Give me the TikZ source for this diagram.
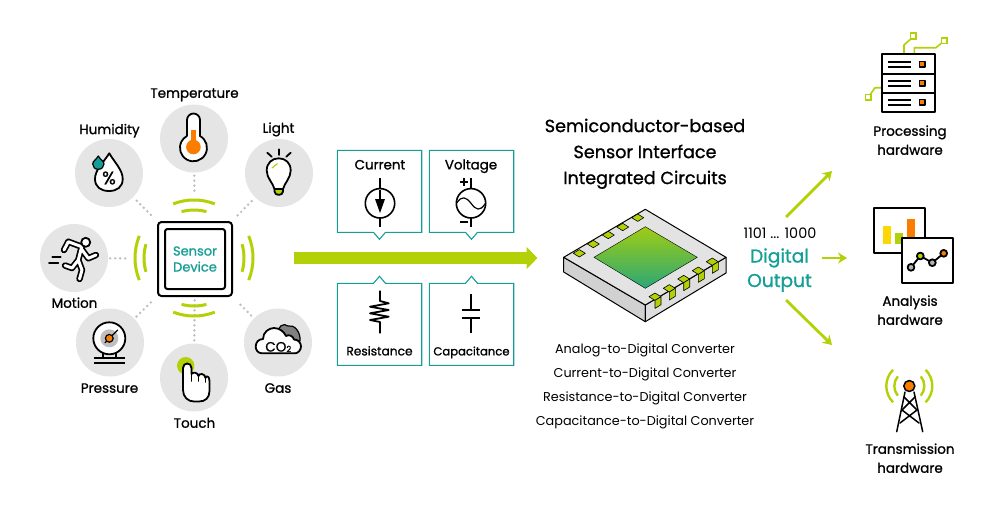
\documentclass[tikz,border=0pt]{standalone}
\usepackage{fontspec}
\setmainfont{Poppins}
\newfontfamily\labelfont[FakeBold=1.1]{Poppins}
\usetikzlibrary{arrows.meta}
\definecolor{lime}{HTML}{B4D006}
\definecolor{teal}{HTML}{159E96}
\definecolor{disc}{HTML}{E5E5E5}
\definecolor{dotgray}{HTML}{BEBEBE}
\definecolor{hot}{HTML}{FB7D00}
\definecolor{diea}{HTML}{A0CC12}
\definecolor{dieb}{HTML}{8CC526}
\definecolor{diec}{HTML}{2AA878}
\tikzset{
	sensorcircle/.style={circle, fill=disc, minimum size=68pt, inner sep=0pt},
	dotline/.style={dotgray, line width=2.7pt, line cap=round, dash pattern=on 0pt off 5pt},
	wave/.style={lime, line width=3pt},
	icon/.style={black, line width=1.8pt, line join=round, line cap=round},
	boxline/.style={teal, line width=1.1pt, fill=white},
	sidearrow/.style={lime, line width=2.8pt, -{Stealth[length=9pt,width=11pt]}},
	mainarrow/.style={lime, line width=12.3pt, -{Triangle[length=11pt,width=21.4pt]}},
	sensortext/.style={font=\labelfont\fontsize{13.5}{15}\selectfont, inner sep=0pt, text height=9.5pt, text depth=0pt},
	pad/.style={fill=lime, draw=black, line width=0.6pt, line join=round}
}
\begin{document}
\begin{tikzpicture}[x=1pt, y=1pt, yscale=-1]
	\useasboundingbox (0, 0) rectangle (1000, 507);

	\node[sensorcircle] at (194, 138.5) (temperature) {};
	\node[sensorcircle] at (109, 173) (humidity) {};
	\node[sensorcircle] at (279, 173) (light) {};
	\node[sensorcircle] at (74, 258) (motion) {};
	\node[sensorcircle] at (110, 342.5) (pressure) {};
	\node[sensorcircle] at (194, 377.5) (touch) {};
	\node[sensorcircle] at (278, 342.5) (gas) {};

	\node[draw, line width=2pt, rounded corners=3.5pt, fill=white, minimum width=74pt, minimum height=74pt, inner sep=0pt] at (195, 259) (device) {};
	\node[draw, line width=2pt, rounded corners=2.5pt, minimum width=60pt, minimum height=60pt, inner sep=0pt, align=center, text=teal, draw=black, font=\labelfont\fontsize{13}{16}\selectfont] at (195, 259) (sensor) {Sensor\\Device};

	\foreach \from/\s/\e in {temperature/3/27, humidity/5/7, light/5/7, motion/2/28, pressure/3/7, touch/3/3, gas/4/7}{
		\draw[dotline, shorten <=\s pt, shorten >=\e pt] (\from) -- (device);
	}
	\foreach \a/\r/\h in {270/58/21, 270/48/15, 90/58/21, 90/48/15, 180/59/22, 180/50/16, 0/59/22, 0/50/16}{
		\draw[wave] (194, 258) ++(\a-\h:\r) arc (\a-\h:\a+\h:\r);
	}

	\foreach \x/\y/\name/\txt in {194.5/93/templabel/Temperature, 109.5/129.4/humlabel/Humidity, 278.5/128/lightlabel/Light, 74.5/303/motionlabel/Motion, 109.5/388/preslabel/Pressure, 194.5/423/touchlabel/Touch, 278/388/gaslabel/Gas}{
		\node[sensortext] at (\x, \y) (\name) {\txt};
	}

	\draw[icon, fill=white] (187, 136) -- (187, 120) arc (180:360:6.5) -- (200, 136) arc (-61:241:13.5);
	\fill[hot] (191.3, 130) rectangle (195.5, 142);
	\fill[hot] (193.4, 147) circle (7.3);

	\draw[icon, fill=white] (109.3, 153.3) .. controls (103, 163) and (95, 170) .. (95, 179) .. controls (95, 187) and (101, 191) .. (109, 191) .. controls (117, 191) and (122.7, 187) .. (122.7, 179) .. controls (122.7, 170) and (115, 163) .. (109.3, 153.3) -- cycle;
	\draw[icon, fill=teal, line width=1.2pt] (98.3, 156) .. controls (96, 160) and (92.7, 161) .. (92.7, 164) .. controls (92.7, 167) and (95, 169.3) .. (98.3, 169.3) .. controls (101.5, 169.3) and (104, 167) .. (104, 164) .. controls (104, 161) and (100.5, 160) .. (98.3, 156) -- cycle;
	\node[font=\labelfont\fontsize{18}{18}\selectfont, inner sep=0pt] at (109, 178) (percent) {\%};

	\draw[icon] (267.3, 152.7) -- (271.7, 156.7);
	\draw[icon] (279, 149.3) -- (279, 155);
	\draw[icon] (290.7, 152.7) -- (286.3, 156.7);
	\draw[icon, fill=lime] (274.5, 189) -- (283, 189) -- (283, 191.5) .. controls (283, 196) and (274.5, 196) .. (274.5, 191.5) -- cycle;
	\draw[icon, fill=white] (274.5, 189) .. controls (273, 183) and (266.7, 178) .. (266.7, 170.5) .. controls (266.7, 163) and (272, 158.3) .. (278.7, 158.3) .. controls (285.5, 158.3) and (290.7, 163) .. (290.7, 170.5) .. controls (290.7, 178) and (284.5, 183) .. (283, 189) -- cycle;
	\draw[lime, line width=1.2pt] (272, 168) -- (277.5, 163.5);

	\draw[icon] (52.3, 256.7) -- (60.7, 256.7);
	\draw[icon] (49, 262.7) -- (58.3, 262.7);
	\draw[black, line width=6.4pt, line cap=round, line join=round] (64, 250) -- (68.3, 241.7) -- (81.7, 246.7) -- (78.3, 260) -- (82, 270) -- (79.5, 279) (78.3, 260) -- (72, 268) -- (65, 265.5) (81.5, 249) -- (88.3, 258.3) -- (96, 255);
	\draw[white, line width=3pt, line cap=round, line join=round] (64, 250) -- (68.3, 241.7) -- (81.7, 246.7) -- (78.3, 260) -- (82, 270) -- (79.5, 279) (78.3, 260) -- (72, 268) -- (65, 265.5) (81.5, 249) -- (88.3, 258.3) -- (96, 255);
	\draw[icon, fill=white] (85.7, 242.3) circle (4.5);

	\draw[icon] (102.7, 353) -- (102.7, 358) (116, 353) -- (116, 358);
	\draw[icon, line cap=butt] (94, 358) -- (125, 358) (94, 362.7) -- (125, 362.7);
	\draw[icon, fill=white] (109.3, 338.3) circle (16);
	\fill[black!25] (109.3, 338.3) circle (9);
	\draw[icon, line width=1.2pt] (105, 342.7) -- (117.7, 330);
	\draw[icon, fill=hot, line width=1.2pt] (109.3, 338.3) circle (3.9);

	\fill[lime] (185.7, 365.7) circle (8.7);
	\draw[icon, fill=white] (183, 385) -- (183, 368) .. controls (183, 362) and (191.5, 362) .. (191.5, 368) -- (191.5, 374) .. controls (192, 372) and (198, 372) .. (198.5, 376) .. controls (199, 373) and (205, 373) .. (205.5, 378) .. controls (206, 375) and (209.5, 376) .. (209.5, 381) -- (209.5, 391) .. controls (209.5, 398) and (205, 401.5) .. (199, 401.5) -- (194, 401.5) .. controls (188, 401.5) and (183, 397) .. (183, 390) -- cycle;
	\draw[icon] (191.5, 374) -- (191.5, 381) (198.5, 376) -- (198.5, 381) (205.5, 378) -- (205.5, 382);

	\draw[icon, fill=black!50, line width=1.2pt] (279, 334) .. controls (276, 327) and (284, 322) .. (288, 326) .. controls (294, 324) and (301, 332) .. (300, 341) -- (285, 341) -- cycle;
	\draw[icon, fill=white] (262, 353.3) .. controls (258, 353.3) and (255.7, 350) .. (255.7, 346.5) .. controls (255.7, 342) and (259, 339) .. (263, 339) .. controls (263, 332) and (269, 328) .. (274, 328) .. controls (280, 328) and (284, 332) .. (286, 336) .. controls (289, 334) and (293, 336) .. (294, 339.5) .. controls (298, 339.5) and (301, 342.5) .. (301, 346.5) .. controls (301, 350) and (298, 353.3) .. (295, 353.3) -- cycle;
	\node[font=\labelfont\fontsize{13.5}{15}\selectfont, inner sep=0pt] at (278.3, 347) (co) {CO\raisebox{-0.5pt}{\fontsize{8.5}{10}\selectfont 2}};

	\foreach \cx in {379.5, 471.5}{
		\draw[boxline] (\cx-42.2, 150.3) -- (\cx+42.2, 150.3) -- (\cx+42.2, 232.3) -- (\cx+6, 232.3) -- (\cx, 239.3) -- (\cx-6, 232.3) -- (\cx-42.2, 232.3) -- cycle;
		\draw[boxline] (\cx-42.2, 365.3) -- (\cx+42.2, 365.3) -- (\cx+42.2, 283.3) -- (\cx+6, 283.3) -- (\cx, 276.3) -- (\cx-6, 283.3) -- (\cx-42.2, 283.3) -- cycle;
	}
	\foreach \x/\y/\s/\name/\txt in {380/165/13.4/currentlabel/Current, 471/165/13.4/voltagelabel/Voltage, 379.5/351/12.2/resistlabel/Resistance, 471.5/351/11.6/caplabel/Capacitance}{
		\node[sensortext, font=\labelfont\fontsize{\s}{15}\selectfont, text height=8.8pt] at (\x, \y) (\name) {\txt};
	}

	\draw[icon, line cap=butt] (380, 178) -- (380, 226.7);
	\draw[icon, fill=white, line width=1.6pt] (380, 203.3) circle (14.7);
	\draw[icon, line cap=butt] (380, 190) -- (380, 205);
	\fill (375, 199) -- (385, 199) -- (380, 213) -- cycle;

	\draw[icon, line cap=butt] (471, 178) -- (471, 226.7);
	\draw[icon, fill=white, line width=1.6pt] (471, 203.3) circle (14.7);
	\draw[icon, line width=1.2pt] (456.5, 203.3) .. controls (462, 195) and (466, 197) .. (471, 203.3) .. controls (476, 210) and (480, 212) .. (485.5, 203.3);
	\draw[icon, line cap=butt] (460, 181.7) -- (468, 181.7) (464, 177.7) -- (464, 185.7) (460, 221.7) -- (468, 221.7);

	\draw[icon, line cap=butt] (380, 290.7) -- (380, 301) -- (388.7, 303.3) -- (370, 306.7) -- (388.7, 310) -- (370, 313.3) -- (388.7, 316.7) -- (370, 320) -- (380, 322) -- (380, 333.3);

	\draw[icon, line cap=butt] (471, 294) -- (471, 310) (462, 310) -- (480, 310) (462, 318) -- (480, 318) (471, 318) -- (471, 333.3);

	\coordinate (mainstart) at (294, 258);
	\coordinate (mainend) at (537.5, 258);
	\draw[mainarrow] (mainstart) -- (mainend);

	\foreach \y/\name/\txt in {126/titleone/Semiconductor-based, 152/titletwo/Sensor Interface, 178/titlethree/Integrated Circuits}{
		\node[font=\labelfont\fontsize{17.6}{18}\selectfont, inner sep=0pt, text height=12.2pt, text depth=0pt] at (645, \y) (\name) {\txt};
	}

	\fill[black!18, draw=black, line width=1pt, line join=round] (563.7, 257.3) -- (645.3, 305) -- (645.3, 321.7) -- (563.7, 272) -- cycle;
	\fill[black!13, draw=black, line width=1pt, line join=round] (726, 257.3) -- (645.3, 305) -- (645.3, 321.7) -- (726, 273) -- cycle;
	\fill[black!11, draw=black, line width=1pt, line join=round] (645.3, 209.3) -- (726, 257.3) -- (645.3, 305) -- (563.7, 257.3) -- cycle;
	\shade[top color=diea, middle color=dieb, bottom color=diec, draw=black, line width=0.4pt] (645.3, 226.7) -- (697.3, 257.3) -- (645.3, 288.3) -- (594, 257.3) -- cycle;

	\foreach \x/\y in {579.3/253.3, 593.3/244, 608.3/235, 622.7/227, 637.7/217.7}{
		\draw[pad] (\x-6, \y) -- (\x, \y-3.7) -- (\x+6, \y) -- (\x, \y+3.7) -- cycle;
	}
	\foreach \x/\y in {655/296.7, 669.3/288.3, 683.7/279, 698.3/270.7, 712.3/261.7}{
		\draw[pad] (\x-6, \y) -- (\x, \y-3.7) -- (\x+6, \y) -- (\x, \y+3.7) -- cycle;
		\draw[pad] (\x, \y+3.7) -- (\x+6, \y) -- (\x+6, \y+8) -- (\x, \y+11.7) -- cycle;
	}

	\foreach \y/\name/\txt in {349/adcl/Analog-to-Digital Converter, 373/cdcl/Current-to-Digital Converter, 397/rdcl/Resistance-to-Digital Converter, 421/capdcl/Capacitance-to-Digital Converter}{
		\node[font=\fontsize{12.8}{15}\selectfont, inner sep=0pt, text height=9pt, text depth=0pt] at (645, \y) (\name) {\txt};
	}

	\node[font=\fontsize{14.4}{15}\selectfont, inner sep=0pt, text height=9.5pt, text depth=0pt] at (780, 234) (bits) {1101 ... 1000};
	\node[font=\labelfont\fontsize{18.6}{24}\selectfont, text=teal, inner sep=0pt, text height=13pt, text depth=0pt] at (779.5, 256) (digital) {Digital};
	\node[font=\labelfont\fontsize{18.6}{24}\selectfont, text=teal, inner sep=0pt, text height=13pt, text depth=0pt] at (779.5, 280.5) (output) {Output};

	\coordinate (upstart) at (786, 217);
	\coordinate (upend) at (832, 171);
	\coordinate (rightstart) at (822, 258);
	\coordinate (rightend) at (847, 258);
	\coordinate (downstart) at (786, 300);
	\coordinate (downend) at (832, 345);
	\draw[sidearrow] (upstart) -- (upend);
	\draw[sidearrow] (rightstart) -- (rightend);
	\draw[sidearrow] (downstart) -- (downend);

	\foreach \y/\name/\first in {131/processlabel/Processing, 301/analysislabel/Analysis, 449/translabel/Transmission}{
		\node[sensortext] at (910, \y) (\name) {\first};
		\node[sensortext] at (910, \y+19) (\name two) {hardware};
	}

	\draw[lime, line width=1.6pt, line join=round] (904, 54.3) -- (904, 45) -- (913.3, 36.7);
	\draw[lime, line width=1.6pt, line join=round] (914.3, 54.3) -- (914.3, 47.7) -- (936, 47.7) -- (944.3, 40.7);
	\draw[lime, line width=1.6pt, line join=round] (881.7, 87.7) -- (875, 87.7) -- (868.3, 97.3);
	\foreach \x/\y in {913.3/36, 944.3/40.7, 868.3/97.3}{
		\draw[lime, line width=1.6pt, fill=white] (\x-2.8, \y-2.8) rectangle (\x+2.8, \y+2.8);
	}
	\draw[icon, line width=2pt, line cap=butt, fill=white] (881.7, 54.3) rectangle (935.3, 112.3);
	\draw[icon, line width=2pt, line cap=butt] (881.7, 74.3) -- (935.3, 74.3) (881.7, 93.3) -- (935.3, 93.3);
	\foreach \y in {64.3, 83.3, 102.3}{
		\draw[icon, line width=1.6pt, line cap=butt] (888, \y-2.5) -- (911, \y-2.5) (888, \y+2.5) -- (911, \y+2.5);
		\draw[icon, line width=1.5pt, fill=hot] (919.5, \y-2.6) rectangle (925, \y+2.9);
	}

	\draw[icon, line width=2pt, line cap=butt, fill=white] (873.7, 207.7) rectangle (925.3, 253.3);
	\fill[yellow!75!orange] (883, 226) rectangle (891, 244);
	\fill[lime] (895, 233) rectangle (903, 244);
	\fill[hot] (907, 219) rectangle (915, 238);
	\draw[icon, line width=2pt, line cap=butt, fill=white] (901.7, 237.7) rectangle (953.3, 283.3);
	\draw[icon] (911, 267.3) -- (920.3, 256) -- (932.3, 262.7) -- (943.7, 253.3);
	\foreach \x/\y/\c in {911/267.3/black!30, 920.3/256/lime, 932.3/262.7/black!30, 943.7/253.3/hot}{
		\draw[icon, fill=\c] (\x, \y) circle (3.4);
	}

	\foreach \a/\r/\h in {180/23/45, 0/23/45, 180/15/40, 0/15/40}{
		\draw[lime, line width=2.4pt] (909.3, 386) ++(\a-\h:\r) arc (\a-\h:\a+\h:\r);
	}
	\draw[icon, line width=1.5pt] (905, 392) -- (896.7, 431.7) (914, 392) -- (922.7, 431.7);
	\draw[icon, line width=1.5pt] (904, 397) -- (917, 410) -- (900, 423) (915, 397) -- (902, 410) -- (919, 423);
	\draw[icon, fill=hot, line width=1.5pt] (909.3, 386) circle (5.5);
\end{tikzpicture}
\end{document}
